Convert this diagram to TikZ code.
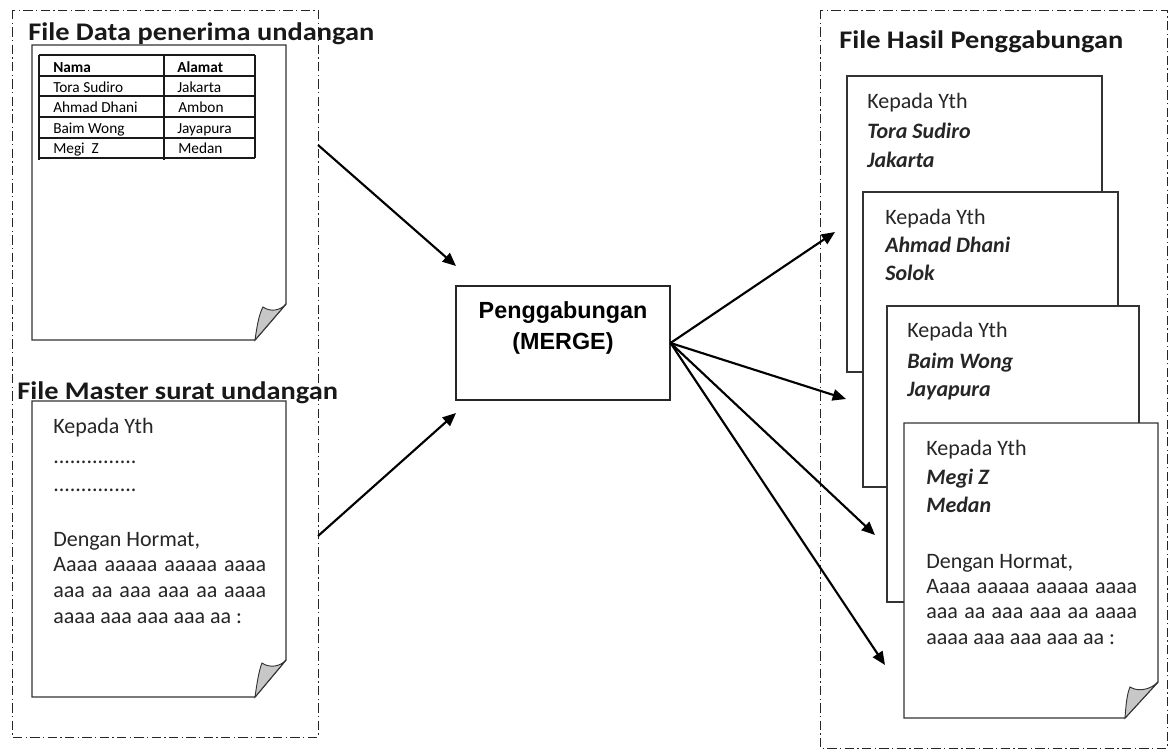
\documentclass[tikz,border=0pt]{standalone}
\usepackage{fontspec}
\usepackage{graphicx}
\setmainfont{Carlito}
\newfontfamily\arialf{Liberation Sans}
\usetikzlibrary{arrows.meta}
\tikzset{
  dbox/.style={draw=black!85, line width=0.75pt, dash pattern=on 7pt off 2.5pt on 1pt off 2.5pt},
  page/.style={draw=black!80, line width=1pt, fill=white},
  flap/.style={draw=black!80, line width=0.7pt, fill=black!22},
  tline/.style={draw=black!90, line width=0.9pt},
  arr/.style={draw=black, line width=1.6pt, -{Triangle[length=10pt,width=8.5pt]}},
  mergebox/.style={draw=black!85, line width=0.8pt, minimum width=160.5pt, minimum height=85.5pt, inner sep=0pt},
  ttl/.style={anchor=base west, inner sep=0pt, text=black!90, font=\fontsize{19}{22}\selectfont\bfseries},
  txt/.style={anchor=base west, inner sep=0pt, text=black!85, font=\fontsize{16.5}{19}\selectfont},
  tbl/.style={anchor=base west, inner sep=0pt, text=black, font=\fontsize{11.5}{13}\selectfont},
  mtxt/.style={anchor=base, inner sep=0pt, text=black, font=\arialf\bfseries\fontsize{17.5}{20}\selectfont}
}
\newcommand\wide[1]{\scalebox{1.12}[1]{#1}}
\newcommand\bi[1]{\textbf{\textit{#1}}}
\begin{document}
\begin{tikzpicture}[x=0.75pt,y=-0.75pt]
\useasboundingbox (0,0) rectangle (1170,751);
\fill[white] (0,0) rectangle (1170,751);

% dashed group frames
\draw[dbox] (12,10) rectangle (318,737);
\draw[dbox] (820,10) rectangle (1167,748);

% ---------- document 1 (data) ----------
\draw[page] (32,45) -- (286,45) -- (286,304) -- (255,340) -- (32,340) -- cycle;
\draw[flap] (255,340) .. controls (257,326) and (259,314) .. (263,307)
  .. controls (270,312) and (280,311) .. (286,304) -- cycle;
% table
\foreach \yy in {55,76,96,117,138,158} \draw[tline] (39,\yy) -- (255,\yy);
\draw[tline] (39,55) -- (39,160);
\draw[tline] (164,55) -- (164,160);
\draw[tline] (255,55) -- (255,158);
\node[tbl] (h1) at (53,72) {\textbf{Nama}};
\node[tbl] (h2) at (177,72) {\textbf{Alamat}};
\node[tbl] (r1a) at (53,92) {Tora Sudiro};
\node[tbl] (r1b) at (177,92) {Jakarta};
\node[tbl] (r2a) at (53,112) {Ahmad Dhani};
\node[tbl] (r2b) at (178,112) {Ambon};
\node[tbl] (r3a) at (53,133) {Baim Wong};
\node[tbl] (r3b) at (177,133) {Jayapura};
\node[tbl] (r4a) at (53,153) {Megi\ \ Z};
\node[tbl] (r4b) at (178,153) {Medan};
\node[ttl] (t1) at (28,40) {\wide{File Data penerima undangan}};

% ---------- document 2 (master) ----------
\draw[page] (32,401) -- (286,401) -- (286,660) -- (255,697) -- (32,697) -- cycle;
\draw[flap] (255,697) .. controls (257,683) and (259,670) .. (262,663)
  .. controls (269,668) and (280,667) .. (286,660) -- cycle;
\node[ttl] (t2) at (17,399.5) {\wide{File Master surat undangan}};
\node[txt] (m1) at (53,433) {Kepada Yth};
\node[txt] (m2) at (53,463) {...............};
\node[txt] (m3) at (53,491) {...............};
\node[txt] (m4) at (53,546) {Dengan Hormat,};
\node[txt] (m5) at (53,571) {\makebox[159.75pt][s]{Aaaa aaaaa aaaaa aaaa}};
\node[txt] (m6) at (53,597) {\makebox[159.75pt][s]{aaa aa aaa aaa aa aaaa}};
\node[txt] (m7) at (53,623) {aaaa aaa aaa aaa aa :};

% ---------- merge box ----------
\node[mergebox] (merge) at (563,343) {};
\node[mtxt] (mt1) at (563,318) {Penggabungan};
\node[mtxt] (mt2) at (563,349) {(MERGE)};

% ---------- result documents ----------
\node[ttl] (t3) at (839,48) {\wide{File Hasil Penggabungan}};
\draw[page] (847,76) rectangle (1102,372);
\node[txt] (a1) at (867,108) {Kepada Yth};
\node[txt] (a2) at (867,138) {\bi{Tora Sudiro}};
\node[txt] (a3) at (867,167) {\bi{Jakarta}};

\draw[page] (863,192) rectangle (1118,487);
\node[txt] (b1) at (885,224) {Kepada Yth};
\node[txt] (b2) at (885,252) {\bi{Ahmad Dhani}};
\node[txt] (b3) at (885,280) {\bi{Solok}};

\draw[page] (887,306) rectangle (1139,602);
\node[txt] (c1) at (907,337) {Kepada Yth};
\node[txt] (c2) at (907,368) {\bi{Baim Wong}};
\node[txt] (c3) at (907,396) {\bi{Jayapura}};

\draw[page] (904,423) -- (1158,423) -- (1158,682) -- (1125,718) -- (904,718) -- cycle;
\draw[flap] (1125,718) .. controls (1126,704) and (1127,694) .. (1130,687)
  .. controls (1138,692) and (1150,690) .. (1158,682) -- cycle;
\node[txt] (d1) at (926,455) {Kepada Yth};
\node[txt] (d2) at (926,484) {\bi{Megi Z}};
\node[txt] (d3) at (926,512) {\bi{Medan}};
\node[txt] (d4) at (926,568) {Dengan Hormat,};
\node[txt] (d5) at (926,593) {\makebox[158.25pt][s]{Aaaa aaaaa aaaaa aaaa}};
\node[txt] (d6) at (926,618) {\makebox[158.25pt][s]{aaa aa aaa aaa aa aaaa}};
\node[txt] (d7) at (926,644) {aaaa aaa aaa aaa aa :};

% ---------- connectors ----------
\coordinate (s1) at (318,145);
\coordinate (e1) at (456,266);
\coordinate (s2) at (318,536);
\coordinate (e2) at (456,413);
\coordinate (o1) at (835,232);
\coordinate (o2) at (846,399);
\coordinate (o3) at (875,535);
\coordinate (o4) at (885,665);
\draw[arr] (s1) -- (e1);
\draw[arr] (s2) -- (e2);
\draw[arr] (merge.east) -- (o1);
\draw[arr] (merge.east) -- (o2);
\draw[arr] (merge.east) -- (o3);
\draw[arr] (merge.east) -- (o4);
\end{tikzpicture}
\end{document}
